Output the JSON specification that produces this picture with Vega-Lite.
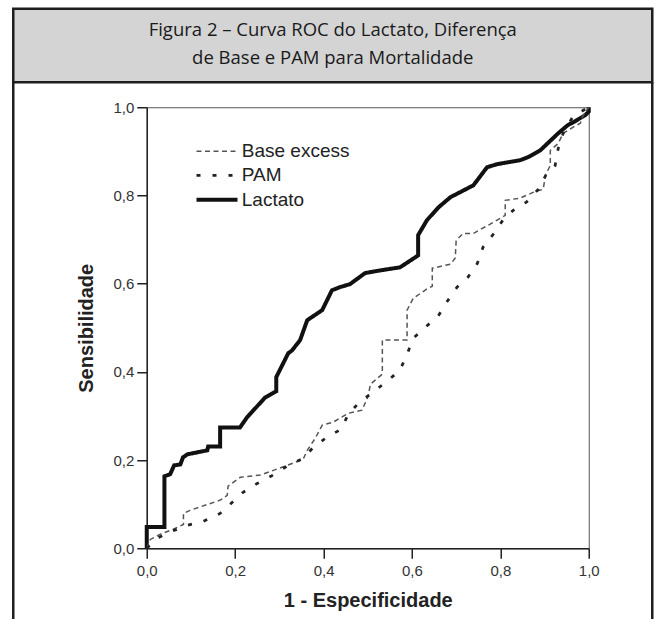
{
  "$schema": "https://vega.github.io/schema/vega-lite/v6.json",
  "background": "white",
  "padding": {"left": 11.75, "top": 7.25, "right": 11.75, "bottom": 0},
  "width": 442,
  "height": 441,
  "view": {"stroke": "#555", "strokeWidth": 1},
  "config": {
    "axis": {
      "grid": false,
      "labelFlush": false,
      "domainColor": "#222",
      "domainWidth": 1.5,
      "tickColor": "#222",
      "tickWidth": 1.5,
      "tickSize": 10,
      "labelColor": "#333",
      "labelFont": "Liberation Sans",
      "labelFontSize": 15,
      "titleFont": "Liberation Sans",
      "titleFontSize": 20,
      "titleFontWeight": "bold",
      "titleColor": "#222"
    },
    "legend": {
      "labelFont": "Liberation Sans",
      "labelFontSize": 19,
      "labelColor": "#222"
    }
  },
  "datasets": {
    "caption": [{"t": "Figura 2 – Curva ROC do Lactato, Diferença\nde Base e PAM para Mortalidade"}],
    "roc": [
      {"s": "Lactato", "o": 0, "x": 0, "y": 0},
      {"s": "Lactato", "o": 1, "x": 0, "y": 0.048},
      {"s": "Lactato", "o": 2, "x": 0.04, "y": 0.048},
      {"s": "Lactato", "o": 3, "x": 0.04, "y": 0.163},
      {"s": "Lactato", "o": 4, "x": 0.053, "y": 0.168},
      {"s": "Lactato", "o": 5, "x": 0.062, "y": 0.188},
      {"s": "Lactato", "o": 6, "x": 0.076, "y": 0.19},
      {"s": "Lactato", "o": 7, "x": 0.082, "y": 0.206},
      {"s": "Lactato", "o": 8, "x": 0.092, "y": 0.213},
      {"s": "Lactato", "o": 9, "x": 0.137, "y": 0.222},
      {"s": "Lactato", "o": 10, "x": 0.139, "y": 0.231},
      {"s": "Lactato", "o": 11, "x": 0.166, "y": 0.231},
      {"s": "Lactato", "o": 12, "x": 0.166, "y": 0.274},
      {"s": "Lactato", "o": 13, "x": 0.211, "y": 0.274},
      {"s": "Lactato", "o": 14, "x": 0.227, "y": 0.297},
      {"s": "Lactato", "o": 15, "x": 0.268, "y": 0.342},
      {"s": "Lactato", "o": 16, "x": 0.293, "y": 0.356},
      {"s": "Lactato", "o": 17, "x": 0.293, "y": 0.388},
      {"s": "Lactato", "o": 18, "x": 0.32, "y": 0.442},
      {"s": "Lactato", "o": 19, "x": 0.329, "y": 0.449},
      {"s": "Lactato", "o": 20, "x": 0.347, "y": 0.472},
      {"s": "Lactato", "o": 21, "x": 0.363, "y": 0.517},
      {"s": "Lactato", "o": 22, "x": 0.397, "y": 0.54},
      {"s": "Lactato", "o": 23, "x": 0.419, "y": 0.585},
      {"s": "Lactato", "o": 24, "x": 0.437, "y": 0.592},
      {"s": "Lactato", "o": 25, "x": 0.46, "y": 0.599},
      {"s": "Lactato", "o": 26, "x": 0.494, "y": 0.624},
      {"s": "Lactato", "o": 27, "x": 0.528, "y": 0.63},
      {"s": "Lactato", "o": 28, "x": 0.573, "y": 0.637},
      {"s": "Lactato", "o": 29, "x": 0.614, "y": 0.664},
      {"s": "Lactato", "o": 30, "x": 0.614, "y": 0.71},
      {"s": "Lactato", "o": 31, "x": 0.634, "y": 0.744},
      {"s": "Lactato", "o": 32, "x": 0.66, "y": 0.773},
      {"s": "Lactato", "o": 33, "x": 0.687, "y": 0.796},
      {"s": "Lactato", "o": 34, "x": 0.739, "y": 0.823},
      {"s": "Lactato", "o": 35, "x": 0.77, "y": 0.864},
      {"s": "Lactato", "o": 36, "x": 0.793, "y": 0.871},
      {"s": "Lactato", "o": 37, "x": 0.845, "y": 0.88},
      {"s": "Lactato", "o": 38, "x": 0.863, "y": 0.887},
      {"s": "Lactato", "o": 39, "x": 0.89, "y": 0.902},
      {"s": "Lactato", "o": 40, "x": 0.931, "y": 0.941},
      {"s": "Lactato", "o": 41, "x": 0.952, "y": 0.959},
      {"s": "Lactato", "o": 42, "x": 0.965, "y": 0.966},
      {"s": "Lactato", "o": 43, "x": 0.992, "y": 0.982},
      {"s": "Lactato", "o": 44, "x": 1.0, "y": 0.99},
      {"s": "Lactato", "o": 45, "x": 1.0, "y": 1.0},

      {"s": "Base excess", "o": 0, "x": 0, "y": 0},
      {"s": "Base excess", "o": 1, "x": 0.008, "y": 0.02},
      {"s": "Base excess", "o": 2, "x": 0.031, "y": 0.032},
      {"s": "Base excess", "o": 3, "x": 0.06, "y": 0.043},
      {"s": "Base excess", "o": 4, "x": 0.083, "y": 0.054},
      {"s": "Base excess", "o": 5, "x": 0.083, "y": 0.079},
      {"s": "Base excess", "o": 6, "x": 0.098, "y": 0.086},
      {"s": "Base excess", "o": 7, "x": 0.166, "y": 0.109},
      {"s": "Base excess", "o": 8, "x": 0.182, "y": 0.12},
      {"s": "Base excess", "o": 9, "x": 0.184, "y": 0.141},
      {"s": "Base excess", "o": 10, "x": 0.212, "y": 0.161},
      {"s": "Base excess", "o": 11, "x": 0.257, "y": 0.166},
      {"s": "Base excess", "o": 12, "x": 0.318, "y": 0.188},
      {"s": "Base excess", "o": 13, "x": 0.354, "y": 0.202},
      {"s": "Base excess", "o": 14, "x": 0.363, "y": 0.222},
      {"s": "Base excess", "o": 15, "x": 0.381, "y": 0.249},
      {"s": "Base excess", "o": 16, "x": 0.397, "y": 0.279},
      {"s": "Base excess", "o": 17, "x": 0.422, "y": 0.286},
      {"s": "Base excess", "o": 18, "x": 0.456, "y": 0.306},
      {"s": "Base excess", "o": 19, "x": 0.487, "y": 0.313},
      {"s": "Base excess", "o": 20, "x": 0.501, "y": 0.345},
      {"s": "Base excess", "o": 21, "x": 0.506, "y": 0.372},
      {"s": "Base excess", "o": 22, "x": 0.533, "y": 0.395},
      {"s": "Base excess", "o": 23, "x": 0.533, "y": 0.472},
      {"s": "Base excess", "o": 24, "x": 0.589, "y": 0.472},
      {"s": "Base excess", "o": 25, "x": 0.589, "y": 0.54},
      {"s": "Base excess", "o": 26, "x": 0.603, "y": 0.567},
      {"s": "Base excess", "o": 27, "x": 0.637, "y": 0.59},
      {"s": "Base excess", "o": 28, "x": 0.646, "y": 0.594},
      {"s": "Base excess", "o": 29, "x": 0.646, "y": 0.635},
      {"s": "Base excess", "o": 30, "x": 0.687, "y": 0.644},
      {"s": "Base excess", "o": 31, "x": 0.698, "y": 0.658},
      {"s": "Base excess", "o": 32, "x": 0.7, "y": 0.698},
      {"s": "Base excess", "o": 33, "x": 0.716, "y": 0.714},
      {"s": "Base excess", "o": 34, "x": 0.739, "y": 0.714},
      {"s": "Base excess", "o": 35, "x": 0.777, "y": 0.735},
      {"s": "Base excess", "o": 36, "x": 0.811, "y": 0.755},
      {"s": "Base excess", "o": 37, "x": 0.811, "y": 0.789},
      {"s": "Base excess", "o": 38, "x": 0.845, "y": 0.794},
      {"s": "Base excess", "o": 39, "x": 0.874, "y": 0.807},
      {"s": "Base excess", "o": 40, "x": 0.897, "y": 0.814},
      {"s": "Base excess", "o": 41, "x": 0.902, "y": 0.846},
      {"s": "Base excess", "o": 42, "x": 0.913, "y": 0.868},
      {"s": "Base excess", "o": 43, "x": 0.913, "y": 0.902},
      {"s": "Base excess", "o": 44, "x": 0.931, "y": 0.918},
      {"s": "Base excess", "o": 45, "x": 0.942, "y": 0.941},
      {"s": "Base excess", "o": 46, "x": 0.965, "y": 0.955},
      {"s": "Base excess", "o": 47, "x": 0.981, "y": 0.964},
      {"s": "Base excess", "o": 48, "x": 0.985, "y": 0.977},
      {"s": "Base excess", "o": 49, "x": 1.0, "y": 1.0},

      {"s": "PAM", "o": 0, "x": 0, "y": 0},
      {"s": "PAM", "o": 1, "x": 0.024, "y": 0.023},
      {"s": "PAM", "o": 2, "x": 0.058, "y": 0.039},
      {"s": "PAM", "o": 3, "x": 0.092, "y": 0.052},
      {"s": "PAM", "o": 4, "x": 0.128, "y": 0.061},
      {"s": "PAM", "o": 5, "x": 0.166, "y": 0.079},
      {"s": "PAM", "o": 6, "x": 0.193, "y": 0.104},
      {"s": "PAM", "o": 7, "x": 0.218, "y": 0.127},
      {"s": "PAM", "o": 8, "x": 0.25, "y": 0.147},
      {"s": "PAM", "o": 9, "x": 0.286, "y": 0.166},
      {"s": "PAM", "o": 10, "x": 0.32, "y": 0.188},
      {"s": "PAM", "o": 11, "x": 0.354, "y": 0.204},
      {"s": "PAM", "o": 12, "x": 0.377, "y": 0.229},
      {"s": "PAM", "o": 13, "x": 0.408, "y": 0.252},
      {"s": "PAM", "o": 14, "x": 0.44, "y": 0.27},
      {"s": "PAM", "o": 15, "x": 0.456, "y": 0.304},
      {"s": "PAM", "o": 16, "x": 0.481, "y": 0.331},
      {"s": "PAM", "o": 17, "x": 0.512, "y": 0.354},
      {"s": "PAM", "o": 18, "x": 0.544, "y": 0.379},
      {"s": "PAM", "o": 19, "x": 0.573, "y": 0.404},
      {"s": "PAM", "o": 20, "x": 0.589, "y": 0.44},
      {"s": "PAM", "o": 21, "x": 0.603, "y": 0.476},
      {"s": "PAM", "o": 22, "x": 0.63, "y": 0.501},
      {"s": "PAM", "o": 23, "x": 0.659, "y": 0.526},
      {"s": "PAM", "o": 24, "x": 0.68, "y": 0.56},
      {"s": "PAM", "o": 25, "x": 0.702, "y": 0.592},
      {"s": "PAM", "o": 26, "x": 0.727, "y": 0.615},
      {"s": "PAM", "o": 27, "x": 0.748, "y": 0.646},
      {"s": "PAM", "o": 28, "x": 0.761, "y": 0.683},
      {"s": "PAM", "o": 29, "x": 0.784, "y": 0.712},
      {"s": "PAM", "o": 30, "x": 0.807, "y": 0.746},
      {"s": "PAM", "o": 31, "x": 0.829, "y": 0.766},
      {"s": "PAM", "o": 32, "x": 0.859, "y": 0.785},
      {"s": "PAM", "o": 33, "x": 0.886, "y": 0.814},
      {"s": "PAM", "o": 34, "x": 0.904, "y": 0.848},
      {"s": "PAM", "o": 35, "x": 0.924, "y": 0.868},
      {"s": "PAM", "o": 36, "x": 0.931, "y": 0.907},
      {"s": "PAM", "o": 37, "x": 0.942, "y": 0.941},
      {"s": "PAM", "o": 38, "x": 0.965, "y": 0.98},
      {"s": "PAM", "o": 39, "x": 1.0, "y": 1.0}
    ]
  },
  "layer": [
    {
      "data": {"name": "roc"},
      "mark": {"type": "line", "strokeCap": "butt", "strokeJoin": "miter"},
      "encoding": {
        "x": {"field": "x", "type": "quantitative", "scale": {"domain": [0, 1], "nice": false, "zero": false},
              "axis": {"title": "1 - Especificidade", "values": [0, 0.2, 0.4, 0.6, 0.8, 1], "labelExpr": "replace(format(datum.value, '.1f'), '.', ',')", "labelPadding": 5, "titlePadding": 12}},
        "y": {"field": "y", "type": "quantitative", "scale": {"domain": [0, 1], "nice": false, "zero": false},
              "axis": {"title": "Sensibilidade", "values": [0, 0.2, 0.4, 0.6, 0.8, 1], "labelExpr": "replace(format(datum.value, '.1f'), '.', ',')", "labelPadding": 3, "titlePadding": 16}},
        "order": {"field": "o", "type": "quantitative"},
        "color": {"field": "s", "type": "nominal",
                  "scale": {"domain": ["Base excess", "PAM", "Lactato"], "range": ["#555555", "#222222", "#111111"]},
                  "legend": {"title": null, "orient": "none", "legendX": 57.75, "legendY": 33, "padding": 0, "symbolType": "M-2,0H2", "symbolSize": 420, "labelOffset": 12.25, "rowPadding": 2}},
        "strokeDash": {"field": "s", "type": "nominal",
                       "scale": {"domain": ["Base excess", "PAM", "Lactato"], "range": [[5, 3.5], [4, 12], [1, 0]]}},
        "strokeWidth": {"field": "s", "type": "nominal",
                        "scale": {"domain": ["Base excess", "PAM", "Lactato"], "range": [1.5, 4, 3.8]}}
      }
    },
    {
      "data": {"values": [{}]},
      "mark": {"type": "rect", "fill": "#d4d4d4", "stroke": "#1e1e1e", "strokeWidth": 2.5},
      "encoding": {
        "x": {"datum": -0.302, "type": "quantitative"},
        "x2": {"datum": 1.1437},
        "y": {"datum": 1.2234, "type": "quantitative"},
        "y2": {"datum": 1.0567}
      }
    },
    {
      "data": {"name": "caption"},
      "mark": {"type": "text", "font": "Open Sans", "fontSize": 18.5, "lineHeight": 28, "lineBreak": "\n", "color": "#1a1a1a", "align": "center", "baseline": "middle"},
      "encoding": {
        "x": {"datum": 0.4208, "type": "quantitative"},
        "y": {"datum": 1.1746, "type": "quantitative"},
        "text": {"field": "t"}
      }
    },
    {
      "data": {"values": [{}]},
      "mark": {"type": "rule", "color": "#1e1e1e", "strokeWidth": 2.5},
      "encoding": {
        "x": {"datum": -0.302, "type": "quantitative"},
        "y": {"datum": 1.0567, "type": "quantitative"},
        "y2": {"datum": -0.2}
      }
    },
    {
      "data": {"values": [{}]},
      "mark": {"type": "rule", "color": "#1e1e1e", "strokeWidth": 2.5},
      "encoding": {
        "x": {"datum": 1.1437, "type": "quantitative"},
        "y": {"datum": 1.0567, "type": "quantitative"},
        "y2": {"datum": -0.2}
      }
    }
  ]
}
